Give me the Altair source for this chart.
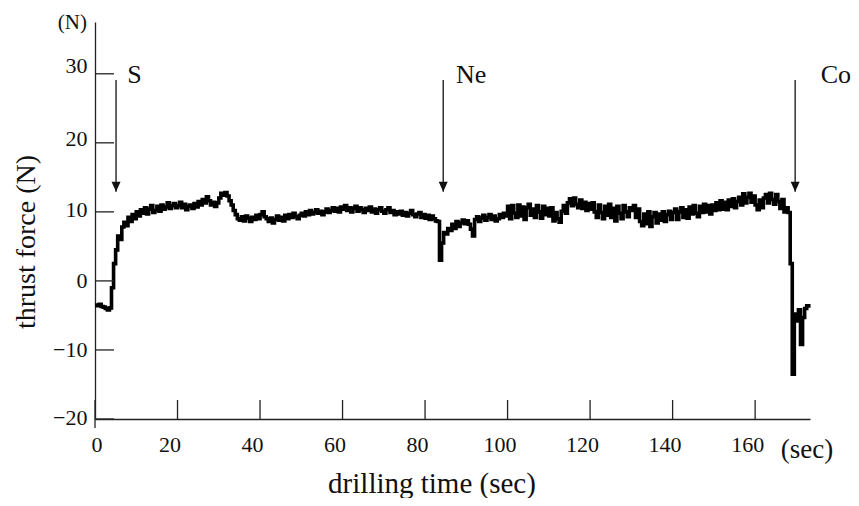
import altair as alt
import pandas as pd

# thrust force samples, every 0.5 s starting at t = 0 (N)
force_rows = [
    [-3.5, -3.6, -3.4, -3.7, -3.8, -4.0, -4.2, -3.9, -1.0, 2.5, 4.5, 6.5, 6.0, 7.8, 8.5, 8.0, 9.2, 8.6, 9.6, 9.0],
    [10.0, 9.4, 10.3, 9.8, 10.6, 9.7, 10.4, 10.9, 9.9, 10.2, 10.8, 10.1, 11.0, 10.4, 10.7, 11.3, 10.5, 10.9, 11.2, 10.6],
    [10.9, 11.4, 10.6, 11.1, 10.3, 10.8, 11.0, 10.5, 11.2, 10.7, 11.5, 11.0, 11.8, 11.3, 12.2, 11.6, 11.0, 11.4, 10.8, 11.3],
    [12.0, 12.7, 12.4, 12.8, 12.3, 11.6, 11.0, 10.2, 9.6, 9.0, 8.8, 9.3, 8.7, 9.4, 9.1, 8.6, 9.2, 8.9, 9.5, 9.0],
    [9.6, 10.0, 9.3, 9.0, 8.6, 9.1, 8.4, 8.9, 9.4, 8.8, 9.2, 8.7, 9.5, 9.0, 9.6, 9.2, 9.8, 9.3, 9.0, 9.5],
    [9.8, 9.4, 10.0, 9.6, 10.2, 9.7, 9.9, 10.3, 9.8, 10.1, 9.6, 10.0, 10.4, 9.9, 10.2, 10.6, 10.1, 10.5, 10.0, 10.7],
    [10.4, 10.9, 10.2, 10.6, 10.0, 10.5, 10.8, 10.1, 10.6, 10.3, 9.9, 10.5, 10.2, 10.7, 10.0, 10.4, 9.8, 10.3, 10.6, 10.1],
    [9.8, 10.3, 10.6, 9.9, 10.2, 9.6, 10.0, 9.7, 10.1, 9.5, 9.9, 9.4, 9.8, 10.2, 9.6, 9.3, 9.7, 9.9, 9.2, 9.6],
    [9.1, 9.5, 8.9, 9.4, 9.0, 8.7, 8.6, 3.0, 5.5, 7.0, 6.8, 7.6, 7.3, 8.2, 7.6, 8.6, 7.9, 8.4, 8.8, 8.3],
    [8.7, 8.2, 7.5, 6.5, 8.9, 9.3, 8.6, 9.1, 9.5, 8.8, 9.2, 9.6, 8.9, 9.4, 8.7, 9.0, 9.6, 9.2, 9.8, 9.4],
    [10.8, 9.0, 10.9, 9.8, 9.2, 11.0, 9.4, 10.7, 8.9, 10.6, 11.1, 9.5, 10.4, 9.2, 10.9, 10.0, 9.1, 10.8, 9.6, 10.5],
    [9.4, 10.6, 8.7, 9.9, 9.0, 8.5, 10.1, 10.9, 9.8, 11.3, 11.9, 10.9, 12.0, 11.1, 10.6, 11.7, 10.5, 11.4, 10.2, 11.2],
    [10.4, 11.3, 10.0, 9.2, 11.0, 9.9, 9.0, 10.8, 9.5, 11.1, 9.2, 10.5, 8.7, 10.8, 9.8, 9.0, 10.9, 10.0, 9.3, 10.6],
    [10.2, 10.9, 9.2, 10.4, 8.6, 8.0, 9.7, 8.3, 10.0, 7.9, 9.3, 9.9, 8.4, 9.7, 8.8, 10.0, 8.6, 9.6, 10.1, 8.9],
    [9.9, 10.4, 8.9, 10.0, 10.6, 9.2, 10.3, 9.1, 10.7, 9.7, 10.9, 9.8, 9.3, 10.8, 9.9, 11.1, 10.0, 10.9, 9.7, 11.0],
    [10.2, 11.3, 10.3, 11.6, 10.4, 11.4, 10.3, 11.7, 10.8, 11.9, 10.6, 11.5, 12.1, 11.0, 12.6, 11.3, 12.1, 12.7, 11.4, 12.3],
    [11.0, 10.3, 11.7, 10.6, 12.0, 12.5, 11.3, 12.7, 11.8, 11.1, 12.5, 11.5, 10.5, 11.8, 10.0, 10.6, 9.9, 2.5, -13.5, -4.8],
    [-5.8, -4.2, -9.2, -5.3, -4.0, -3.6, -3.9],
]
T0 = 0.0
DT = 0.5

x_ticks = [0, 20, 40, 60, 80, 100, 120, 140, 160]
y_ticks = [-20, -10, 0, 10, 20, 30]

arrow_t = [5.1, 84.4, 169.7]
arrow_labels = ["S", "Ne", "Co"]
label_t = [7.8, 87.5, 175.9]
arrow_top = 29.1
arrow_tip = 12.9

force = [v for row in force_rows for v in row]
df = pd.DataFrame({"t": [T0 + DT * i for i in range(len(force))], "f": force})

W, H = 715, 397
FONT = "Liberation Serif"
INK = "#111111"

xs = alt.Scale(domain=[0, 173.3], nice=False, zero=False)
ys = alt.Scale(domain=[-20, 37.5], nice=False, zero=False)

x_axis = alt.Axis(
    values=x_ticks, ticks=False, tickSize=0, grid=False, title=None,
    labelFont=FONT, labelFontSize=22, labelColor=INK, labelPadding=15,
    labelOffset={"expr": "datum.value == 0 ? -4 : -8"},
    domainColor="#222222", domainWidth=1.3,
)
y_axis = alt.Axis(
    values=y_ticks, ticks=False, tickSize=0, grid=False, title=None,
    labelFont=FONT, labelFontSize=22, labelColor=INK, labelPadding=8,
    labelBaseline="middle",
    labelOffset={"expr": "datum.value >= 30 ? -8 : datum.value >= 20 ? -4 : datum.value >= 10 ? -2 : datum.value <= -20 ? -2 : 0"},
    domainColor="#222222", domainWidth=1.3,
)

line = alt.Chart(df).mark_line(
    color="black", strokeWidth=3.6, strokeJoin="miter", interpolate="step-after"
).encode(
    x=alt.X("t:Q", scale=xs, axis=x_axis),
    y=alt.Y("f:Q", scale=ys, axis=y_axis),
)

ytick_df = pd.DataFrame({"v": y_ticks})
xtick_df = pd.DataFrame({"v": x_ticks})

ytick_rules = alt.Chart(ytick_df).mark_rule(color="#222222", strokeWidth=1.3).encode(
    y=alt.Y("v:Q", scale=ys), x=alt.value(0), x2=alt.value(19)
)
xtick_rules = alt.Chart(xtick_df).mark_rule(color="#222222", strokeWidth=1.3).encode(
    x=alt.X("v:Q", scale=xs), y=alt.value(H - 19), y2=alt.value(H)
)
yaxis_ext = alt.Chart(pd.DataFrame({"a": [0]})).mark_rule(color="#222222", strokeWidth=1.3).encode(
    x=alt.value(0), y=alt.value(H), y2=alt.value(H + 9)
)

arr_df = pd.DataFrame({
    "t": arrow_t, "top": [arrow_top] * 3, "tip": [arrow_tip] * 3,
    "lt": label_t, "lab": arrow_labels,
})
arrow_shaft = alt.Chart(arr_df).mark_rule(color=INK, strokeWidth=1.3).encode(
    x=alt.X("t:Q", scale=xs), y=alt.Y("top:Q", scale=ys), y2="tip:Q"
)
arrow_head = alt.Chart(arr_df).mark_point(
    shape="M-0.9,-2L0.9,-2L0,0Z", filled=True, color=INK, opacity=1, size=100, strokeWidth=0
).encode(x=alt.X("t:Q", scale=xs), y=alt.Y("tip:Q", scale=ys))
arrow_text = alt.Chart(arr_df).mark_text(
    font=FONT, fontSize=26, color=INK, align="left", baseline="alphabetic", dy=3
).encode(x=alt.X("lt:Q", scale=xs), y=alt.Y("top:Q", scale=ys), text="lab:N")


def label(txt, x, y, size, align="center", angle=0):
    return alt.Chart(pd.DataFrame({"s": [txt]})).mark_text(
        font=FONT, fontSize=size, color=INK, align=align, baseline="alphabetic", angle=angle
    ).encode(x=alt.value(x), y=alt.value(y), text="s:N")


unit_n = label("(N)", -8, 7, 21, align="right")
unit_sec = label("(sec)", 712, 436, 27)
x_title = label("drilling  time (sec)", 337, 471, 29)
y_title = label("thrust force (N)", -60, 220, 28, angle=270)

chart = alt.layer(
    line, ytick_rules, xtick_rules, yaxis_ext, arrow_shaft, arrow_head, arrow_text,
    unit_n, unit_sec, x_title, y_title,
).properties(
    width=W, height=H,
    autosize=alt.AutoSizeParams(type="none"),
    padding={"left": 87, "top": 14, "right": 41, "bottom": 79},
    background="white",
).configure_view(stroke=None)

chart.save("out.html", embed_options={"renderer": "svg", "actions": False})
